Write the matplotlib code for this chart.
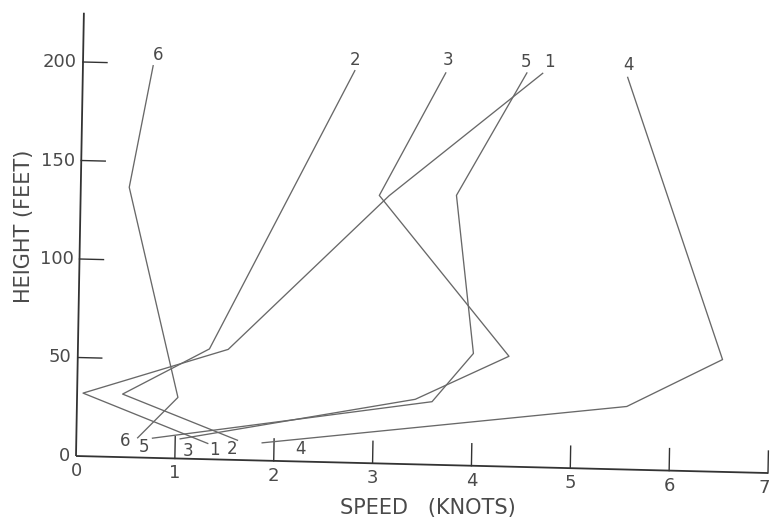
import numpy as np
import matplotlib
matplotlib.use("Agg")
import matplotlib.pyplot as plt
from matplotlib.transforms import Affine2D

# Wind speed profiles: speed (knots) at each measuring height (feet)
speed_1 = [1.33, 0.06, 1.52, 3.12, 4.65]
height_1 = [8, 32, 56, 136, 200]
speed_2 = [1.63, 0.46, 1.33, 2.75]
height_2 = [10, 32, 56, 199]
speed_3 = [1.05, 3.42, 4.36, 3.02, 3.67]
height_3 = [10, 33, 56, 136, 199]
speed_4 = [1.88, 5.56, 6.52, 5.51]
height_4 = [9, 32, 57, 199]
speed_5 = [0.77, 3.59, 4.00, 3.80, 4.49]
height_5 = [10, 32, 57, 137, 200]
speed_6 = [0.62, 1.02, 0.49, 0.71]
height_6 = [10, 31, 137, 199]

profile_names = ["1", "2", "3", "4", "5", "6"]
x_ticks = [0, 1, 2, 3, 4, 5, 6, 7]
y_ticks = [0, 50, 100, 150, 200]
x_label = "SPEED   (KNOTS)"
y_label = "HEIGHT (FEET)"

profiles = {
    "1": (speed_1, height_1),
    "2": (speed_2, height_2),
    "3": (speed_3, height_3),
    "4": (speed_4, height_4),
    "5": (speed_5, height_5),
    "6": (speed_6, height_6),
}

# label offsets in pixels from the top and bottom ends of each profile
top_offsets = {"1": (7, 11), "2": (0, 11), "3": (2, 13),
               "4": (1, 12), "5": (-1, 11), "6": (5, 11)}
bottom_offsets = {"1": (7, -7), "2": (-5, -9), "3": (8, -12),
                  "4": (38, -6), "5": (-8, -9), "6": (-13, -3)}

W, H = 771, 518
fig = plt.figure(figsize=(W / 100, H / 100), dpi=100)
fig.patch.set_facecolor("white")

x_max, y_max = 7, 225
px_per_ft = 1.97
ax = fig.add_axes([76 / W, 62 / H, 692 / W, px_per_ft * y_max / H])
ax.set_xlim(0, x_max)
ax.set_ylim(0, y_max)
ax.axis("off")

# the hand-drawn frame is slightly skewed; apply that to every drawn element
ox, oy = ax.transData.transform((0, 0))
shear = Affine2D(np.array([[1.0, 0.0178, 0.0],
                           [-0.0246, 1.0, 0.0],
                           [0.0, 0.0, 1.0]]))
skew = Affine2D().translate(-ox, -oy) + shear + Affine2D().translate(ox, oy)
tr = ax.transData + skew

axis_color = "#333333"
line_color = "#686868"
text_color = "#4a4a4a"
font = "DejaVu Sans"

# axes lines
ax.plot([0, x_max], [0, 0], color=axis_color, lw=1.3, transform=tr,
        clip_on=False, solid_capstyle="butt")
ax.plot([0, 0], [0, y_max], color=axis_color, lw=1.3, transform=tr,
        clip_on=False, solid_capstyle="butt")

# ticks pointing into the plot
x_tick_len = 22 / px_per_ft
y_tick_len = 24 / 98.86
for xv in x_ticks[1:]:
    ax.plot([xv, xv], [0, x_tick_len], color=axis_color, lw=1.0,
            transform=tr, clip_on=False)
for yv in y_ticks[1:]:
    ax.plot([0, y_tick_len], [yv, yv], color=axis_color, lw=1.0,
            transform=tr, clip_on=False)

for xv in x_ticks:
    dx = -4 if xv == x_ticks[-1] else 0
    ax.annotate(str(xv), xy=(xv, 0), xycoords=tr, xytext=(dx, -15),
                textcoords="offset pixels", ha="center", va="center",
                fontsize=13, color=text_color, family=font)
for yv in y_ticks:
    ax.annotate(str(yv), xy=(0, yv), xycoords=tr, xytext=(-6, 0),
                textcoords="offset pixels", ha="right", va="center",
                fontsize=13, color=text_color, family=font)

# profiles
for name in profile_names:
    sp, ht = profiles[name]
    ax.plot(sp, ht, color=line_color, lw=0.95, transform=tr, clip_on=False)
    ax.annotate(name, xy=(sp[-1], ht[-1]), xycoords=tr,
                xytext=top_offsets[name], textcoords="offset pixels",
                ha="center", va="center", fontsize=12, color=text_color,
                family=font)
    ax.annotate(name, xy=(sp[0], ht[0]), xycoords=tr,
                xytext=bottom_offsets[name], textcoords="offset pixels",
                ha="center", va="center", fontsize=12, color=text_color,
                family=font)

fig.text(428 / W, 1 - 508 / H, x_label, ha="center", va="center",
         fontsize=15, color=text_color, family=font)
fig.text(24 / W, 1 - 226 / H, y_label, ha="center", va="center",
         rotation=90, fontsize=15, color=text_color, family=font)

fig.savefig("out.png", dpi=100, facecolor="white")
